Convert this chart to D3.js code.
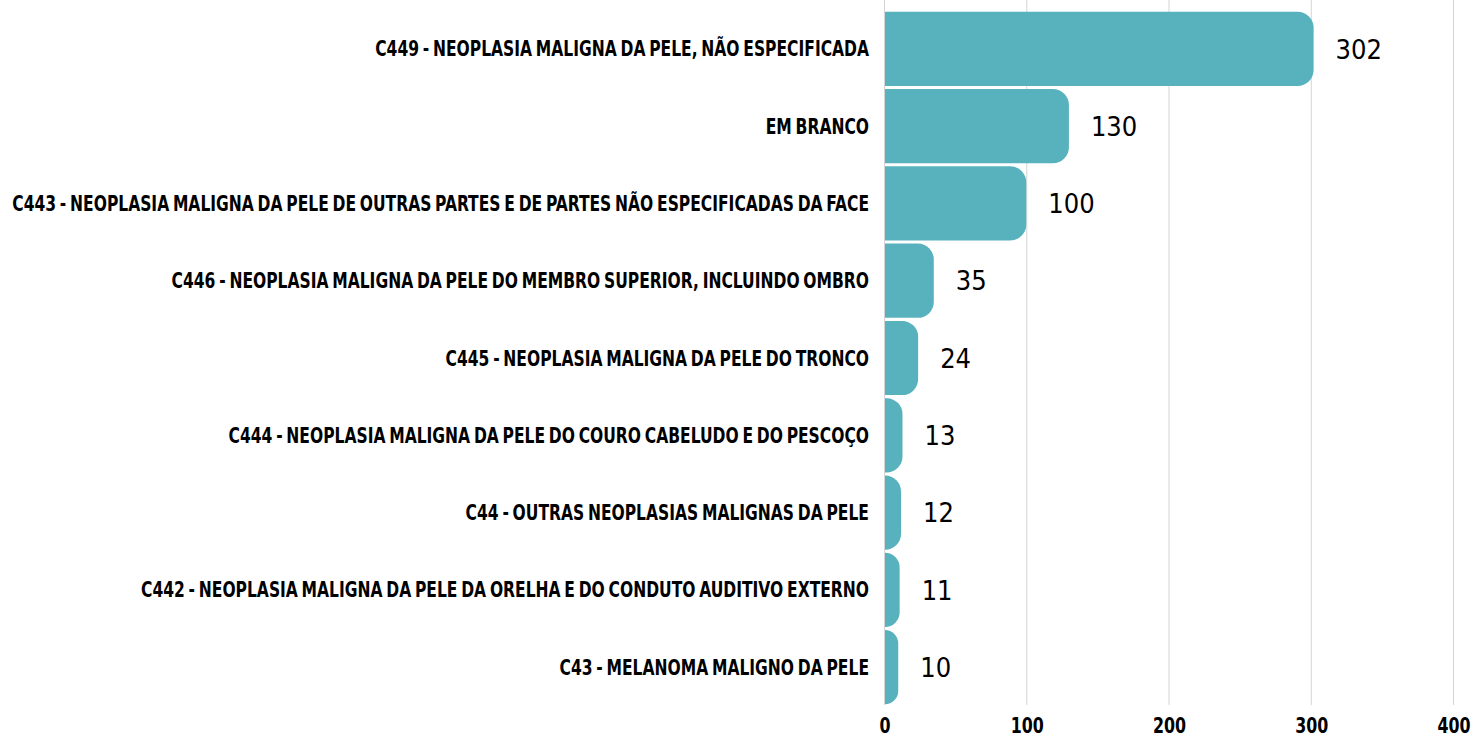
<!DOCTYPE html>
<html>
<head>
<meta charset="utf-8">
<script src="https://cdn.jsdelivr.net/npm/d3@7"></script>
<style>
  body { margin: 0; background: #fff; }
  .labs { font-family: "DejaVu Sans Condensed", "DejaVu Sans", sans-serif; font-weight: bold; fill: #000; }
  .vals { font-family: "DejaVu Sans Condensed", "DejaVu Sans", sans-serif; fill: #000; }
</style>
</head>
<body>
<div id="wrapper"></div>
<script>
var categories = [
    "C449 - NEOPLASIA MALIGNA DA PELE, NÃO ESPECIFICADA",
    "EM BRANCO",
    "C443 - NEOPLASIA MALIGNA DA PELE DE OUTRAS PARTES E DE PARTES NÃO ESPECIFICADAS DA FACE",
    "C446 - NEOPLASIA MALIGNA DA PELE DO MEMBRO SUPERIOR, INCLUINDO OMBRO",
    "C445 - NEOPLASIA MALIGNA DA PELE DO TRONCO",
    "C444 - NEOPLASIA MALIGNA DA PELE DO COURO CABELUDO E DO PESCOÇO",
    "C44 - OUTRAS NEOPLASIAS MALIGNAS DA PELE",
    "C442 - NEOPLASIA MALIGNA DA PELE DA ORELHA E DO CONDUTO AUDITIVO EXTERNO",
    "C43 - MELANOMA MALIGNO DA PELE"
];
var values = [302, 130, 100, 35, 24, 13, 12, 11, 10];
var ticks = [0, 100, 200, 300, 400];

var margin = {top: 11, left: 884, right: 19, bottom: 35};
var width = 1472 - margin.left - margin.right;
var height = 740 - margin.top - margin.bottom;
var barColor = "#58b2bd";

var svg = d3.select("#wrapper")
    .append("svg")
    .attr("width", 1472)
    .attr("height", 740)
    .append("g")
    .attr("transform", "translate(" + margin.left + "," + margin.top + ")");

var x = d3.scaleLinear().domain([0, 400]).range([0, 569]);
var y = d3.scaleBand().domain(categories).range([0, height]).paddingInner(0.04).paddingOuter(0.01);

// gridlines
svg.selectAll("line.grid")
    .data(ticks)
    .enter()
    .append("line")
    .attr("class", "grid")
    .attr("x1", function(d) { return x(d) + 0.5; })
    .attr("x2", function(d) { return x(d) + 0.5; })
    .attr("y1", -11)
    .attr("y2", height)
    .attr("stroke", "#d4d4d4")
    .attr("stroke-width", 1);

// bars with rounded right end
var barPath = function(d, i) {
    var x0 = x(0) + 1, x1 = x(d), y0 = y(categories[i]), h = y.bandwidth();
    var r = Math.min(16, x1 - x0);
    return "M" + x0 + "," + y0 +
        "H" + (x1 - r) +
        "A" + r + "," + r + " 0 0 1 " + x1 + "," + (y0 + r) +
        "V" + (y0 + h - r) +
        "A" + r + "," + r + " 0 0 1 " + (x1 - r) + "," + (y0 + h) +
        "H" + x0 + "Z";
};

svg.selectAll("path.bar")
    .data(values)
    .enter()
    .append("path")
    .attr("class", "bar")
    .attr("d", barPath)
    .attr("fill", barColor);

// value labels
svg.selectAll("text.vals")
    .data(values)
    .enter()
    .append("text")
    .attr("class", "vals")
    .text(function(d) { return d; })
    .attr("x", function(d) { return x(d) + 22; })
    .attr("y", function(d, i) { return y(categories[i]) + y.bandwidth() / 2; })
    .attr("dy", "0.36em")
    .style("font-size", "27px");

// row labels (compressed to match the condensed face)
var rowG = svg.append("g").attr("class", "rowlabels");
var rows = rowG.selectAll("text")
    .data(categories)
    .enter()
    .append("text")
    .attr("class", "labs")
    .text(function(d) { return d; })
    .attr("x", 0)
    .attr("y", function(d) { return y(d) + y.bandwidth() / 2; })
    .attr("dy", "0.36em")
    .style("text-anchor", "end")
    .style("word-spacing", "-2px")
    .style("font-size", "21px");

var maxW = d3.max(rows.nodes(), function(n) { return n.getComputedTextLength(); });
var sx = 857 / maxW;
rowG.attr("transform", "translate(-15,0) scale(" + sx + ",1)");

// x axis tick labels
var axisG = svg.append("g")
    .attr("transform", "translate(0," + height + ")")
    .call(d3.axisBottom(x).tickValues(ticks).tickSize(0).tickPadding(12));
axisG.select(".domain").remove();
axisG.selectAll("text")
    .attr("class", "labs")
    .attr("x", 0.5)
    .style("font-size", "22px")
    .attr("transform", "scale(0.8,1)");
</script>
</body>
</html>
